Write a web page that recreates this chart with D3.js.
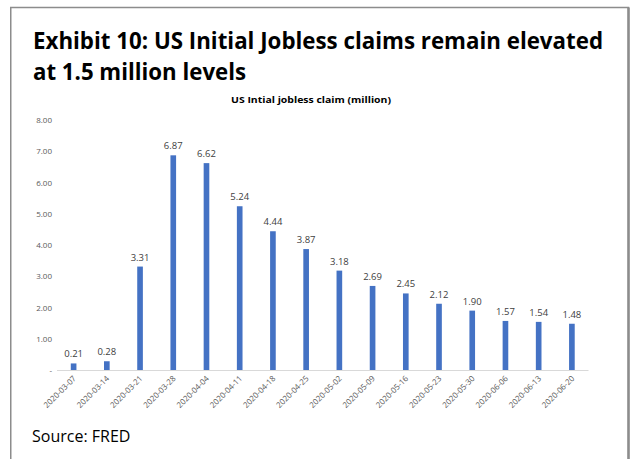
<!DOCTYPE html>
<html lang="en">
<head>
    <meta charset="utf-8">
    <title>US Initial Jobless Claims</title>
    <style>
        body { margin: 0; background: #fff; }
        text { font-family: "Open Sans", "Noto Sans", sans-serif; }
    </style>
</head>
<body>
    <svg id="chart" width="633" height="459"></svg>
    <script src="https://cdn.jsdelivr.net/npm/d3@7"></script>
    <script>
        // weekly initial claims, millions
        const weeks = [
            "2020-03-07", "2020-03-14", "2020-03-21", "2020-03-28",
            "2020-04-04", "2020-04-11", "2020-04-18", "2020-04-25",
            "2020-05-02", "2020-05-09", "2020-05-16", "2020-05-23",
            "2020-05-30", "2020-06-06", "2020-06-13", "2020-06-20"
        ];
        const claims = [0.21, 0.28, 3.31, 6.87, 6.62, 5.24, 4.44, 3.87,
                        3.18, 2.69, 2.45, 2.12, 1.90, 1.57, 1.54, 1.48];
        const yTicks = [0, 1, 2, 3, 4, 5, 6, 7, 8];

        const svg = d3.select("#chart");

        // frame
        svg.append("path")
            .attr("d", "M10.75,459V7.5H628.5V459")
            .attr("fill", "none")
            .attr("stroke", "#8c8c8c")
            .attr("stroke-width", 1.5);
        svg.append("line")
            .attr("x1", 628.5).attr("x2", 628.5)
            .attr("y1", 7.5).attr("y2", 459)
            .attr("stroke", "#8c8c8c")
            .attr("stroke-width", 2.5);

        // headline (squeezed to Calibri-like width)
        const head = svg.append("g")
            .attr("font-weight", "bold")
            .attr("font-size", 23)
            .attr("fill", "#000");
        head.append("text")
            .attr("x", 33).attr("y", 49)
            .attr("textLength", 570)
            .attr("lengthAdjust", "spacingAndGlyphs")
            .text("Exhibit 10: US Initial Jobless claims remain elevated");
        head.append("text")
            .attr("x", 33).attr("y", 80)
            .attr("textLength", 213)
            .attr("lengthAdjust", "spacingAndGlyphs")
            .text("at 1.5 million levels");

        const x = d3.scaleBand()
            .domain(weeks)
            .range([57, 588.5])
            .paddingInner(0.83)
            .paddingOuter(0.415);

        const y = d3.scaleLinear()
            .domain([0, 8])
            .range([370, 120]);

        svg.append("text")
            .attr("x", 311).attr("y", 103)
            .attr("text-anchor", "middle")
            .attr("font-size", 9)
            .attr("font-weight", "bold")
            .attr("textLength", 160)
            .attr("lengthAdjust", "spacingAndGlyphs")
            .attr("fill", "#000")
            .text("US Intial jobless claim (million)");

        // y axis, no line
        const yAxis = svg.append("g")
            .attr("transform", "translate(52,0)")
            .call(d3.axisLeft(y)
                .tickValues(yTicks)
                .tickSize(0)
                .tickPadding(0)
                .tickFormat(d => d === 0 ? "-" : d3.format(".2f")(d)));
        yAxis.select(".domain").remove();
        yAxis.selectAll("text")
            .attr("fill", "#595959")
            .attr("font-size", 8)
            .style("font-family", "'Open Sans', sans-serif");

        // bars
        svg.append("g")
            .selectAll("rect")
            .data(claims)
            .join("rect")
                .attr("x", (d, i) => x(weeks[i]))
                .attr("y", d => y(d))
                .attr("width", x.bandwidth())
                .attr("height", d => y(0) - y(d))
                .attr("fill", "#4472c4");

        // value labels
        svg.append("g")
            .selectAll("text")
            .data(claims)
            .join("text")
                .attr("x", (d, i) => x(weeks[i]) + x.bandwidth() / 2)
                .attr("y", d => y(d) - 6)
                .attr("text-anchor", "middle")
                .attr("font-size", 9.5)
                .attr("fill", "#404040")
                .text(d => d.toFixed(2));

        // x axis
        const xAxis = svg.append("g")
            .attr("transform", "translate(0,370)")
            .call(d3.axisBottom(x).tickSize(0).tickPadding(0));
        xAxis.select(".domain")
            .attr("stroke", "#d9d9d9")
            .attr("d", "M57,0.5H588.5");
        xAxis.selectAll("text")
            .attr("fill", "#595959")
            .attr("font-size", 8)
            .attr("text-anchor", "end")
            .attr("dy", 0)
            .attr("transform", "translate(3,9) rotate(-45)")
            .style("font-family", "'Open Sans', sans-serif");

        svg.append("text")
            .attr("x", 32).attr("y", 442)
            .attr("font-size", 16)
            .attr("fill", "#000")
            .text("Source: FRED");
    </script>
</body>
</html>
